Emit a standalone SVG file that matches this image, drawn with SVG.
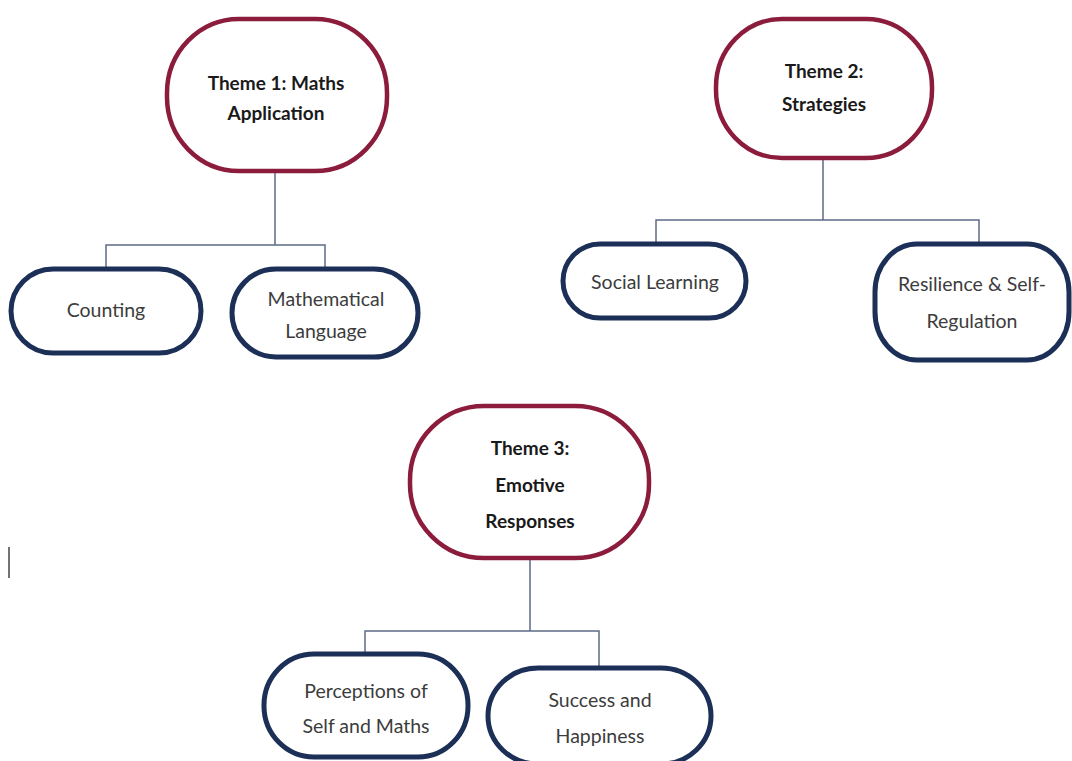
<svg xmlns="http://www.w3.org/2000/svg" width="1072" height="761" viewBox="0 0 1072 761">
<style>
.theme{fill:#fff;stroke:#8C1C3C;stroke-width:4.5}
.sub{fill:#fff;stroke:#1C2F57;stroke-width:5}
.conn{fill:none;stroke:#5E6B87;stroke-width:1.5}
.tt{font-family:Lato,"Liberation Sans",sans-serif;font-weight:bold;font-size:19px;fill:#1a1a1a;text-anchor:middle}
.st{font-family:Lato,"Liberation Sans",sans-serif;font-size:19.5px;fill:#3c3c3c;text-anchor:middle}
</style>
<rect width="1072" height="761" fill="#fff"/>
<g id="connectors">
<path class="conn" d="M275 172V245M106 268V245H325V268"/>
<path class="conn" d="M823 158V220M656 243V220H979V243"/>
<path class="conn" d="M530 558V631M365 653V631H599V667"/>
</g>
<g id="theme1">
<rect class="theme" x="167" y="19" width="220" height="152" rx="72" ry="74"/>
<text class="tt" x="276" y="90">Theme 1: Maths</text>
<text class="tt" x="276" y="120">Application</text>
</g>
<g id="counting">
<rect class="sub" x="11" y="269" width="190" height="84" rx="42" ry="42"/>
<text class="st" x="106" y="317">Counting</text>
</g>
<g id="mathlang">
<rect class="sub" x="232" y="269" width="186" height="88" rx="44" ry="44"/>
<text class="st" x="326" y="306">Mathematical</text>
<text class="st" x="326" y="338">Language</text>
</g>
<g id="theme2">
<rect class="theme" x="716" y="19" width="216" height="139" rx="66" ry="68"/>
<text class="tt" x="824" y="78">Theme 2:</text>
<text class="tt" x="824" y="111">Strategies</text>
</g>
<g id="social">
<rect class="sub" x="563" y="244" width="183" height="74" rx="37" ry="37"/>
<text class="st" x="655" y="289">Social Learning</text>
</g>
<g id="resilience">
<rect class="sub" x="875" y="244" width="194" height="116" rx="42" ry="48"/>
<text class="st" x="972" y="291">Resilience &amp; Self-</text>
<text class="st" x="972" y="328">Regulation</text>
</g>
<g id="theme3">
<rect class="theme" x="410" y="406" width="239" height="152" rx="74" ry="74"/>
<text class="tt" x="530" y="455">Theme 3:</text>
<text class="tt" x="530" y="492">Emotive</text>
<text class="tt" x="530" y="528">Responses</text>
</g>
<g id="perceptions">
<rect class="sub" x="264" y="654" width="204" height="103" rx="50" ry="51"/>
<text class="st" x="366" y="698">Perceptions of</text>
<text class="st" x="366" y="733">Self and Maths</text>
</g>
<g id="success">
<rect class="sub" x="488" y="668" width="223" height="96" rx="50" ry="48"/>
<text class="st" x="600" y="707">Success and</text>
<text class="st" x="600" y="743">Happiness</text>
</g>
<line x1="9" y1="547" x2="9" y2="578" stroke="#444" stroke-width="1.5"/>
</svg>
